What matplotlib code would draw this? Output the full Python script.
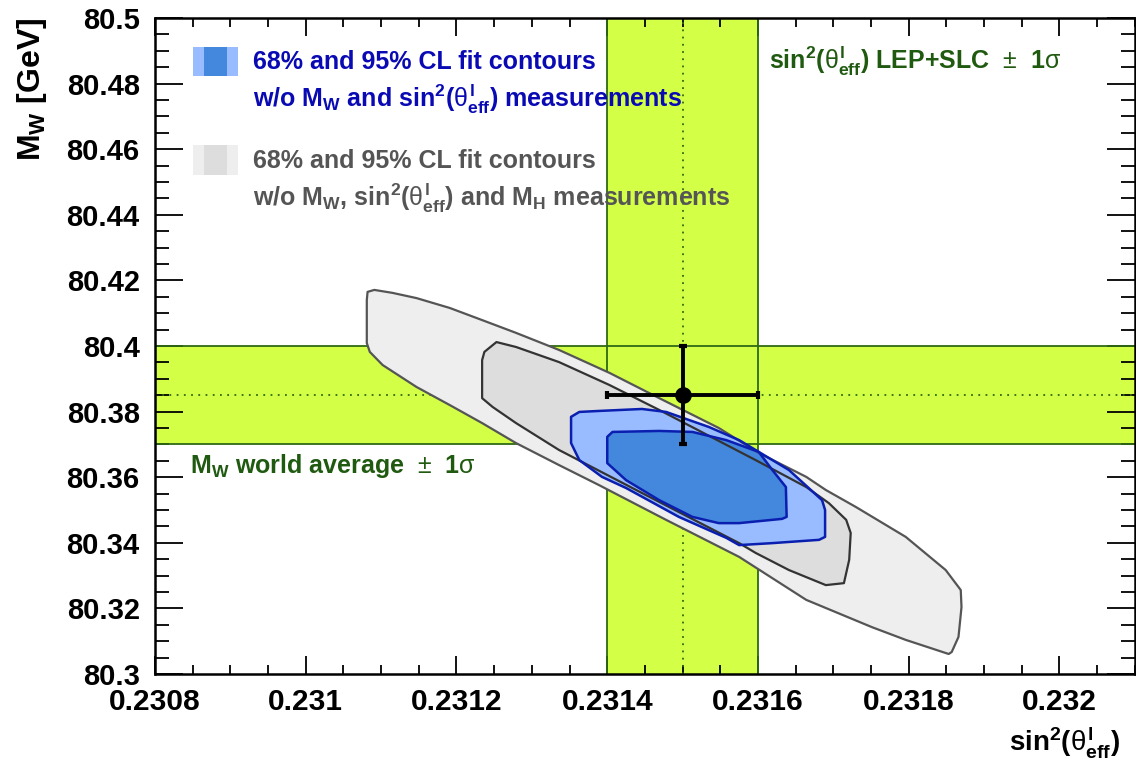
import matplotlib
matplotlib.use("Agg")
import matplotlib.pyplot as plt
from matplotlib.patches import Polygon, Rectangle
from matplotlib.ticker import MultipleLocator, FixedLocator

plt.rcParams['font.family'] = ['Liberation Sans', 'DejaVu Sans']
plt.rcParams['mathtext.fontset'] = 'custom'
plt.rcParams['mathtext.rm'] = 'Liberation Sans:bold'
plt.rcParams['mathtext.bf'] = 'Liberation Sans:bold'
plt.rcParams['mathtext.it'] = 'Liberation Sans:normal'
plt.rcParams['mathtext.sf'] = 'Liberation Sans:normal'

# ---------------- data ----------------
# sin^2(theta_eff) LEP+SLC measurement and M_W world average
sin2_meas = 0.23150
sin2_err = 0.00010
mw_meas = 80.385
mw_err = 0.015

# 95% CL contour without M_W, sin2 and M_H measurements (light grey)
grey95_x = [0.231082, 0.231091, 0.231115, 0.231147, 0.231191, 0.231234, 0.231279,
            0.231336, 0.231403, 0.231469, 0.231548, 0.231601, 0.231664, 0.231690,
            0.231730, 0.231796, 0.231849, 0.231869, 0.231870, 0.231866, 0.231857,
            0.231853, 0.231796, 0.231751, 0.231664, 0.231575, 0.231478, 0.231389,
            0.231336, 0.231279, 0.231234, 0.231191, 0.231147, 0.231102, 0.231085,
            0.231081, 0.231081]
grey95_y = [80.4165, 80.4171, 80.4162, 80.4146, 80.4116, 80.4079, 80.4040,
            80.3988, 80.3918, 80.3841, 80.3750, 80.3674, 80.3601, 80.3561,
            80.3509, 80.3418, 80.3317, 80.3256, 80.3204, 80.3113, 80.3067,
            80.3061, 80.3104, 80.3143, 80.3226, 80.3357, 80.3470, 80.3576,
            80.3637, 80.3704, 80.3765, 80.3820, 80.3875, 80.3942, 80.3982,
            80.4009, 80.4140]

# 68% CL contour without M_W, sin2 and M_H measurements (medium grey)
grey68_x = [0.231237, 0.231253, 0.231279, 0.231336, 0.231403, 0.231469, 0.231597,
            0.231664, 0.231694, 0.231717, 0.231723, 0.231721, 0.231714, 0.231690,
            0.231641, 0.231597, 0.231575, 0.231456, 0.231336, 0.231279, 0.231248,
            0.231234, 0.231234]
grey68_y = [80.3982, 80.4012, 80.3997, 80.3951, 80.3881, 80.3805, 80.3652,
            80.3570, 80.3521, 80.3470, 80.3430, 80.3348, 80.3277, 80.3271,
            80.3317, 80.3369, 80.3399, 80.3540, 80.3683, 80.3765, 80.3814,
            80.3841, 80.3957]

# 95% CL contour without M_W and sin2 measurements (light blue)
blue95_x = [0.231352, 0.231363, 0.231389, 0.231446, 0.231478, 0.231535, 0.231575,
            0.231641, 0.231685, 0.231689, 0.231689, 0.231681, 0.231619, 0.231575,
            0.231558, 0.231495, 0.231425, 0.231393, 0.231363, 0.231352]
blue95_y = [80.3784, 80.3799, 80.3802, 80.3808, 80.3799, 80.3753, 80.3713,
            80.3622, 80.3530, 80.3500, 80.3418, 80.3409, 80.3399, 80.3393,
            80.3415, 80.3479, 80.3567, 80.3601, 80.3652, 80.3704]

# 68% CL contour without M_W and sin2 measurements (dark blue)
blue68_x = [0.231400, 0.231407, 0.231469, 0.231513, 0.231558, 0.231601, 0.231619,
            0.231637, 0.231638, 0.231632, 0.231575, 0.231548, 0.231513, 0.231469,
            0.231425, 0.231400]
blue68_y = [80.3723, 80.3738, 80.3741, 80.3738, 80.3713, 80.3677, 80.3622,
            80.3570, 80.3479, 80.3473, 80.3460, 80.3460, 80.3479, 80.3530,
            80.3591, 80.3643]

x_ticks = [0.2308, 0.2310, 0.2312, 0.2314, 0.2316, 0.2318, 0.2320]
x_ticklabels = ['0.2308', '0.231', '0.2312', '0.2314', '0.2316', '0.2318', '0.232']
y_ticks = [80.30, 80.32, 80.34, 80.36, 80.38, 80.40, 80.42, 80.44, 80.46, 80.48, 80.50]
y_ticklabels = ['80.3', '80.32', '80.34', '80.36', '80.38', '80.4', '80.42', '80.44',
                '80.46', '80.48', '80.5']
x_range = (0.2308, 0.2321)
y_range = (80.30, 80.50)

# ---------------- style ----------------
band_col = '#d3ff47'
band_edge = '#2f6a14'
green_txt = '#1f5a10'
blue_txt = '#0a0ab4'
grey_txt = '#555555'
c_b95, c_b68, c_bedge = '#99bbff', '#4488dd', '#0a1fb0'
c_g95, c_g68 = '#eeeeee', '#dddddd'

fig = plt.figure(figsize=(11.36, 7.68), dpi=100)
ax = fig.add_axes([155/1136, 94/768, 981/1136 - 0.001, 656/768])
ax.set_xlim(*x_range)
ax.set_ylim(*y_range)

# bands
ax.axvspan(sin2_meas - sin2_err, sin2_meas + sin2_err, color=band_col, zorder=1, lw=0)
ax.axhspan(mw_meas - mw_err, mw_meas + mw_err, color=band_col, zorder=1, lw=0)
for xv in (sin2_meas - sin2_err, sin2_meas + sin2_err):
    ax.axvline(xv, color=band_edge, lw=1.3, zorder=2)
for yv in (mw_meas - mw_err, mw_meas + mw_err):
    ax.axhline(yv, color=band_edge, lw=1.3, zorder=2)
ax.axvline(sin2_meas, color=band_edge, lw=1.3, ls=(0, (1, 3)), zorder=2)
ax.axhline(mw_meas, color=band_edge, lw=1.3, ls=(0, (1, 3)), zorder=2)

# contours: fills
for xs, ys, fc in [(grey95_x, grey95_y, c_g95), (grey68_x, grey68_y, c_g68),
                   (blue95_x, blue95_y, c_b95), (blue68_x, blue68_y, c_b68)]:
    ax.add_patch(Polygon(list(zip(xs, ys)), closed=True, facecolor=fc,
                         edgecolor='none', zorder=3))
# contour lines
ax.add_patch(Polygon(list(zip(grey95_x, grey95_y)), closed=True, fill=False,
                     edgecolor='#555555', lw=1.6, joinstyle='round', zorder=4))
ax.add_patch(Polygon(list(zip(grey68_x, grey68_y)), closed=True, fill=False,
                     edgecolor='#333333', lw=1.6, joinstyle='round', zorder=4))
ax.add_patch(Polygon(list(zip(blue95_x, blue95_y)), closed=True, fill=False,
                     edgecolor=c_bedge, lw=1.8, joinstyle='round', zorder=5))
ax.add_patch(Polygon(list(zip(blue68_x, blue68_y)), closed=True, fill=False,
                     edgecolor=c_bedge, lw=1.8, joinstyle='round', zorder=5))

# measurement point
ax.errorbar([sin2_meas], [mw_meas], xerr=[sin2_err], yerr=[mw_err], fmt='o',
            color='black', ms=11, lw=2.8, capsize=3, capthick=3, zorder=6)

# ticks
ax.xaxis.set_major_locator(FixedLocator(x_ticks))
ax.set_xticklabels(x_ticklabels)
ax.xaxis.set_minor_locator(MultipleLocator(0.00005))
ax.yaxis.set_major_locator(FixedLocator(y_ticks))
ax.set_yticklabels(y_ticklabels)
ax.yaxis.set_minor_locator(MultipleLocator(0.005))
ax.tick_params(which='both', direction='in', top=True, right=True, width=1.3)
ax.tick_params(axis='x', which='major', length=13, labelsize=21.5, pad=10)
ax.tick_params(axis='x', which='minor', length=6.5)
ax.tick_params(axis='y', which='major', length=20, labelsize=21, pad=11)
ax.tick_params(axis='y', which='minor', length=10)
for lbl in ax.get_xticklabels() + ax.get_yticklabels():
    lbl.set_fontweight('bold')
for s in ax.spines.values():
    s.set_linewidth(1.8)
    s.set_zorder(7)

# legend-like boxes (axes fraction)
T = ax.transAxes
ax.add_patch(Rectangle((0.0387, 0.9116), 0.0459, 0.0442, transform=T, fc=c_b95, ec='none', zorder=8))
ax.add_patch(Rectangle((0.0499, 0.9116), 0.0235, 0.0442, transform=T, fc=c_b68, ec='none', zorder=8))
ax.add_patch(Rectangle((0.0387, 0.7607), 0.0459, 0.0457, transform=T, fc=c_g95, ec='none', zorder=8))
ax.add_patch(Rectangle((0.0499, 0.7607), 0.0235, 0.0457, transform=T, fc=c_g68, ec='none', zorder=8))

fs = 18
pm = r'$\mathsf{\pm}$'
sig = r'$\sigma$'
ax.text(0.0999, 0.922, '68% and 95% CL fit contours', transform=T, color=blue_txt,
        fontsize=fs, fontweight='bold', va='baseline', zorder=9)
ax.text(0.0999, 0.864, r'w/o M$_{\mathrm{W}}$ and sin$^{2}$($\theta^{\mathrm{l}}_{\mathrm{eff}}$) measurements',
        transform=T, color=blue_txt, fontsize=fs, fontweight='bold', va='baseline', zorder=9)
ax.text(0.0999, 0.771, '68% and 95% CL fit contours', transform=T, color=grey_txt,
        fontsize=fs, fontweight='bold', va='baseline', zorder=9)
ax.text(0.0999, 0.713, r'w/o M$_{\mathrm{W}}$, sin$^{2}$($\theta^{\mathrm{l}}_{\mathrm{eff}}$) and M$_{\mathrm{H}}$ measurements',
        transform=T, color=grey_txt, fontsize=fs, fontweight='bold', va='baseline', zorder=9)
ax.text(0.627, 0.922, r'sin$^{2}$($\theta^{\mathrm{l}}_{\mathrm{eff}}$) LEP+SLC  ' + pm + '  1' + sig,
        transform=T, color=green_txt, fontsize=fs, fontweight='bold', va='baseline', zorder=9)
ax.text(0.0357, 0.306, r'M$_{\mathrm{W}}$ world average  ' + pm + '  1' + sig,
        transform=T, color=green_txt, fontsize=fs, fontweight='bold', va='baseline', zorder=9)

# axis titles (ROOT style, aligned at the end)
fig.text(0.028, 0.9766, r'M$_{\mathrm{W}}$ [GeV]', rotation=90, ha='center', va='top',
         fontsize=23, fontweight='bold')
fig.text(0.986, 0.0234, r'sin$^{2}$($\theta^{\mathrm{l}}_{\mathrm{eff}}$)', ha='right', va='baseline',
         fontsize=20, fontweight='bold')

fig.savefig('out.png', dpi=100)
